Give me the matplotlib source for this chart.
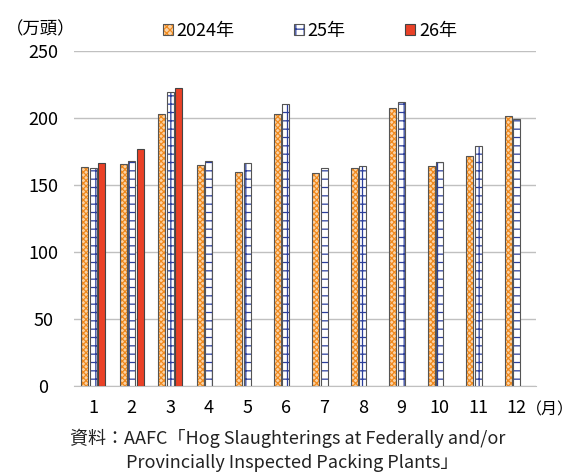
import matplotlib
matplotlib.use("Agg")
import matplotlib.pyplot as plt
import numpy as np
from matplotlib.patches import Patch

plt.rcParams['font.family'] = ['Noto Sans CJK JP', 'DejaVu Sans']
plt.rcParams['hatch.linewidth'] = 0.9

months = ['1', '2', '3', '4', '5', '6', '7', '8', '9', '10', '11', '12']
s2024 = [163.4, 165.4, 203.2, 164.7, 159.9, 202.7, 159.2, 162.7, 207.5, 164.4, 171.4, 201.2]
s2025 = [162.4, 167.7, 219.6, 167.9, 166.4, 210.2, 162.4, 164.4, 211.7, 167.4, 179.1, 199.5]
s2026 = [166.2, 177.1, 222.4]
labels = ['2024年', '25年', '26年']
yticks = [0, 50, 100, 150, 200, 250]

fig = plt.figure(figsize=(5.73, 4.73), dpi=100)
ax = fig.add_axes([74/573, 1-386/473, (536-74)/573, (386-51)/473])

x = np.arange(len(months))
w = 0.18
off = 0.217

edge = '#555555'
c24_face, c24_hatch = '#fbd3a6', '#f08a1e'
c25_face, c25_hatch = 'white', '#2c3f9c'
c26 = '#ea4127'

ax.bar(x - off, s2024, w, color=c24_face, edgecolor=c24_hatch, hatch='xxxxxx', linewidth=0, zorder=3)
ax.bar(x - off, s2024, w, fill=False, edgecolor=edge, linewidth=0.8, zorder=4)
ax.bar(x, s2025, w, color=c25_face, edgecolor=c25_hatch, hatch='++', linewidth=0, zorder=3)
ax.bar(x, s2025, w, fill=False, edgecolor=edge, linewidth=0.8, zorder=4)
x26 = np.arange(len(s2026))
ax.bar(x26 + off, s2026, w, color=c26, edgecolor='#444444', linewidth=0.8, zorder=4)

ax.set_xlim(-0.5, len(months) - 0.5)
ax.set_ylim(0, 250)
ax.set_yticks(yticks)
ax.set_xticks(x)
ax.set_xticklabels(months)
ax.tick_params(axis='both', length=0, labelsize=13, colors='black')
ax.tick_params(axis='y', pad=22)
ax.tick_params(axis='x', pad=9)
for lab in ax.get_yticklabels():
    lab.set_horizontalalignment('center')
ax.grid(axis='y', color='#c0c0c0', linewidth=1.0, zorder=0)
for s in ['top', 'right', 'left']:
    ax.spines[s].set_visible(False)
ax.spines['bottom'].set_color('#c0c0c0')
ax.spines['bottom'].set_zorder(0)

handles = [
    (Patch(facecolor=c24_face, edgecolor=c24_hatch, hatch='xxxxx', linewidth=0),
     Patch(fill=False, edgecolor=edge, linewidth=0.8)),
    (Patch(facecolor=c25_face, edgecolor=c25_hatch, hatch='++', linewidth=0),
     Patch(fill=False, edgecolor=edge, linewidth=0.8)),
    Patch(facecolor=c26, edgecolor='#444444', linewidth=0.8),
]
fig.legend(handles, labels, loc='center', bbox_to_anchor=(310/573, 1-31/473), ncol=3,
           frameon=False, fontsize=13, handlelength=0.55, handleheight=0.55,
           handletextpad=0.2, columnspacing=3.3)

fig.text(6/573, 1-29/473, '（万頭）', fontsize=12.5, va='center', ha='left')
fig.text(526/573, 1-410/473, '（月）', fontsize=11.5, va='center', ha='left')
fig.text(70/573, 1-438/473, '資料：AAFC「Hog Slaughterings at Federally and/or', fontsize=13,
         va='center', ha='left', color='#222222')
fig.text(126/573, 1-463/473, 'Provincially Inspected Packing Plants」', fontsize=13,
         va='center', ha='left', color='#222222')

fig.savefig('out.png', dpi=100)
